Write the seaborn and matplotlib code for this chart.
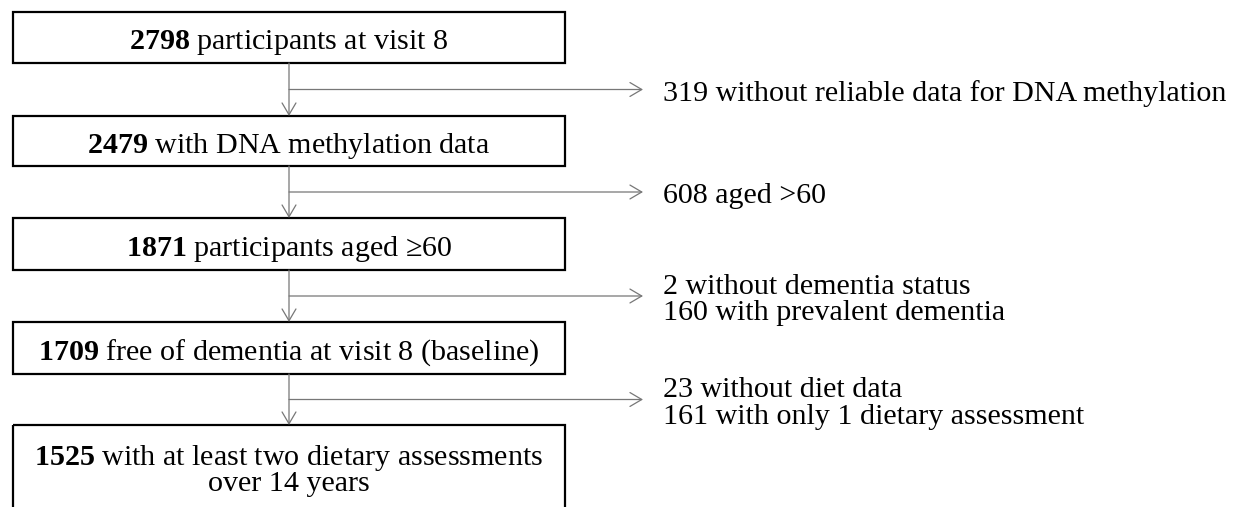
import matplotlib
matplotlib.use("Agg")
import matplotlib.pyplot as plt
import matplotlib.patches as mpatches
import seaborn as sns

# flow counts and labels
box_counts = ["2798", "2479", "1871", "1709", "1525"]
box_labels = [
    "participants at visit 8",
    "with DNA methylation data",
    "participants aged \u226560",
    "free of dementia at visit 8 (baseline)",
    "with at least two dietary assessments\nover 14 years",
]
excluded = [
    "319 without reliable data for DNA methylation",
    "608 aged >60",
    "2 without dementia status\n160 with prevalent dementia",
    "23 without diet data\n161 with only 1 dietary assessment",
]

# layout in pixels (y grows downward)
box_left, box_right = 13, 565
box_tops = [12, 116, 218, 322, 425]
box_bottoms = [63, 166, 270, 374, 520]
stem_x = 289
arrow_tip_x = 643
excl_text_x = 663
fs = 21.6
line_gap = 27

sns.set_theme(style="white")
plt.rcParams["font.family"] = ["Liberation Serif", "DejaVu Serif"]
plt.rcParams["mathtext.fontset"] = "custom"
plt.rcParams["mathtext.rm"] = "Liberation Serif"
plt.rcParams["mathtext.bf"] = "Liberation Serif:bold"

fig = plt.figure(figsize=(12.36, 5.07), dpi=100)
ax = fig.add_axes([0, 0, 1, 1])
ax.set_xlim(0, 1236)
ax.set_ylim(507, 0)
ax.axis("off")

line_col = "#777777"
cx = (box_left + box_right) / 2

for i, (n, lab) in enumerate(zip(box_counts, box_labels)):
    top, bot = box_tops[i], box_bottoms[i]
    ax.add_patch(mpatches.Rectangle((box_left, top), box_right - box_left, bot - top,
                                    fill=False, edgecolor="black", linewidth=1.6))
    lines = lab.split("\n")
    txt = r"$\mathbf{" + n + "}$ " + lines[0]
    if len(lines) == 1:
        ax.text(cx, (top + bot) / 2 + 1, txt, ha="center", va="center_baseline",
                fontsize=fs, color="black")
    else:
        ax.text(cx, top + 29, txt, ha="center", va="center_baseline",
                fontsize=fs, color="black")
        ax.text(cx, top + 29 + line_gap, lines[1], ha="center",
                va="center_baseline", fontsize=fs, color="black")

arrow_kw = dict(arrowstyle="->,head_length=0.85,head_width=0.5", color=line_col,
                lw=0.9, shrinkA=0, shrinkB=0, mutation_scale=10)

for i, ex in enumerate(excluded):
    y0, y1 = box_bottoms[i], box_tops[i + 1]
    ym = (y0 + y1) / 2
    ax.annotate("", xy=(stem_x, y1), xytext=(stem_x, y0), arrowprops=arrow_kw)
    ax.annotate("", xy=(arrow_tip_x, ym), xytext=(stem_x, ym), arrowprops=arrow_kw)
    parts = ex.split("\n")
    first = ym - (len(parts) - 1) * line_gap / 2
    for k, p in enumerate(parts):
        ax.text(excl_text_x, first + k * line_gap + 1, p, ha="left",
                va="center_baseline", fontsize=fs, color="black")

fig.savefig("out.png", dpi=100)
